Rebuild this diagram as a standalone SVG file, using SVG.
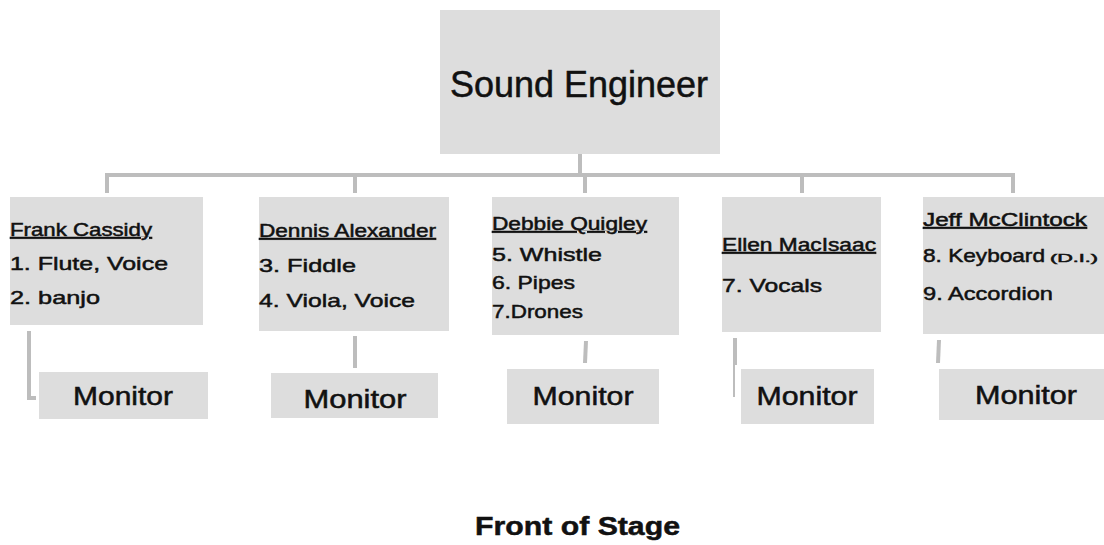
<svg xmlns="http://www.w3.org/2000/svg" width="1104" height="545" viewBox="0 0 1104 545">
<style>
.box{fill:#dddddd}
.t{font-family:"Liberation Sans",Arial,sans-serif;fill:#111;stroke:#111;stroke-width:0.5}
.name{font-size:18px;text-decoration:underline}
.item{font-size:19px}
.mon{font-size:25px;text-anchor:middle}
.ln{stroke:#bdbdbd;stroke-width:4;fill:none}
</style>
<rect width="1104" height="545" fill="#ffffff"/>
<g id="connectors">
<line class="ln" x1="580" y1="154" x2="580" y2="175"/>
<line class="ln" x1="105" y1="175" x2="1015" y2="175"/>
<path class="ln" d="M107 173V193"/>
<path class="ln" d="M355 173V193"/>
<path class="ln" d="M585 173V193"/>
<path class="ln" d="M802 173V193"/>
<path class="ln" d="M1013 173V193"/>
<path class="ln" d="M29 331V398H36"/>
<path class="ln" d="M355 336V368"/>
<path class="ln" d="M586 341L585 363"/>
<path class="ln" d="M735 338V365"/>
<path d="M734 365V397" stroke="#bdbdbd" stroke-width="2"/>
<path class="ln" d="M939 340L938 363"/>
</g>
<g id="sound-engineer">
<rect class="box" x="440" y="10" width="280" height="144"/>
<text class="t" x="450" y="97" font-size="36" textLength="258" lengthAdjust="spacingAndGlyphs">Sound Engineer</text>
</g>
<g id="frank-cassidy">
<rect class="box" x="10" y="197" width="193" height="128"/>
<text class="t name" x="10" y="236" textLength="142" lengthAdjust="spacingAndGlyphs">Frank Cassidy</text>
<text class="t item" x="10" y="270" textLength="158" lengthAdjust="spacingAndGlyphs">1. Flute, Voice</text>
<text class="t item" x="10" y="304" textLength="90" lengthAdjust="spacingAndGlyphs">2. banjo</text>
</g>
<g id="dennis-alexander">
<rect class="box" x="259" y="197" width="190" height="134"/>
<text class="t name" x="259" y="237" textLength="177" lengthAdjust="spacingAndGlyphs">Dennis Alexander</text>
<text class="t item" x="259" y="272" textLength="97" lengthAdjust="spacingAndGlyphs">3. Fiddle</text>
<text class="t item" x="259" y="307" textLength="156" lengthAdjust="spacingAndGlyphs">4. Viola, Voice</text>
</g>
<g id="debbie-quigley">
<rect class="box" x="492" y="197" width="187" height="138"/>
<text class="t name" x="492" y="230" textLength="155" lengthAdjust="spacingAndGlyphs">Debbie Quigley</text>
<text class="t item" x="492" y="261" textLength="110" lengthAdjust="spacingAndGlyphs">5. Whistle</text>
<text class="t item" x="492" y="289" textLength="83" lengthAdjust="spacingAndGlyphs">6. Pipes</text>
<text class="t item" x="492" y="318" textLength="91" lengthAdjust="spacingAndGlyphs">7.Drones</text>
</g>
<g id="ellen-macisaac">
<rect class="box" x="722" y="197" width="159" height="135"/>
<text class="t name" x="722" y="251" textLength="154" lengthAdjust="spacingAndGlyphs">Ellen MacIsaac</text>
<text class="t item" x="722" y="292" textLength="100" lengthAdjust="spacingAndGlyphs">7. Vocals</text>
</g>
<g id="jeff-mcclintock">
<rect class="box" x="923" y="197" width="181" height="137"/>
<text class="t name" x="923" y="226" textLength="164" lengthAdjust="spacingAndGlyphs">Jeff McClintock</text>
<text class="t item" x="923" y="262"><tspan textLength="122" lengthAdjust="spacingAndGlyphs">8. Keyboard</tspan><tspan x="1050" font-size="11" textLength="48" lengthAdjust="spacingAndGlyphs">(D.I.)</tspan></text>
<text class="t item" x="923" y="300" textLength="130" lengthAdjust="spacingAndGlyphs">9. Accordion</text>
</g>
<g id="monitor-1">
<rect class="box" x="39" y="372" width="169" height="47"/>
<text class="t mon" x="123" y="405" textLength="100" lengthAdjust="spacingAndGlyphs">Monitor</text>
</g>
<g id="monitor-2">
<rect class="box" x="271" y="373" width="167" height="45"/>
<text class="t mon" x="355" y="408" textLength="103" lengthAdjust="spacingAndGlyphs">Monitor</text>
</g>
<g id="monitor-3">
<rect class="box" x="507" y="369" width="152" height="55"/>
<text class="t mon" x="583" y="405" textLength="101" lengthAdjust="spacingAndGlyphs">Monitor</text>
</g>
<g id="monitor-4">
<rect class="box" x="741" y="369" width="133" height="55"/>
<text class="t mon" x="807" y="405" textLength="101" lengthAdjust="spacingAndGlyphs">Monitor</text>
</g>
<g id="monitor-5">
<rect class="box" x="939" y="369" width="165" height="51"/>
<text class="t mon" x="1026" y="404" textLength="102" lengthAdjust="spacingAndGlyphs">Monitor</text>
</g>
<g id="front-of-stage">
<text class="t" x="475" y="535" font-size="26" font-weight="bold" textLength="205" lengthAdjust="spacingAndGlyphs">Front of Stage</text>
</g>
</svg>
